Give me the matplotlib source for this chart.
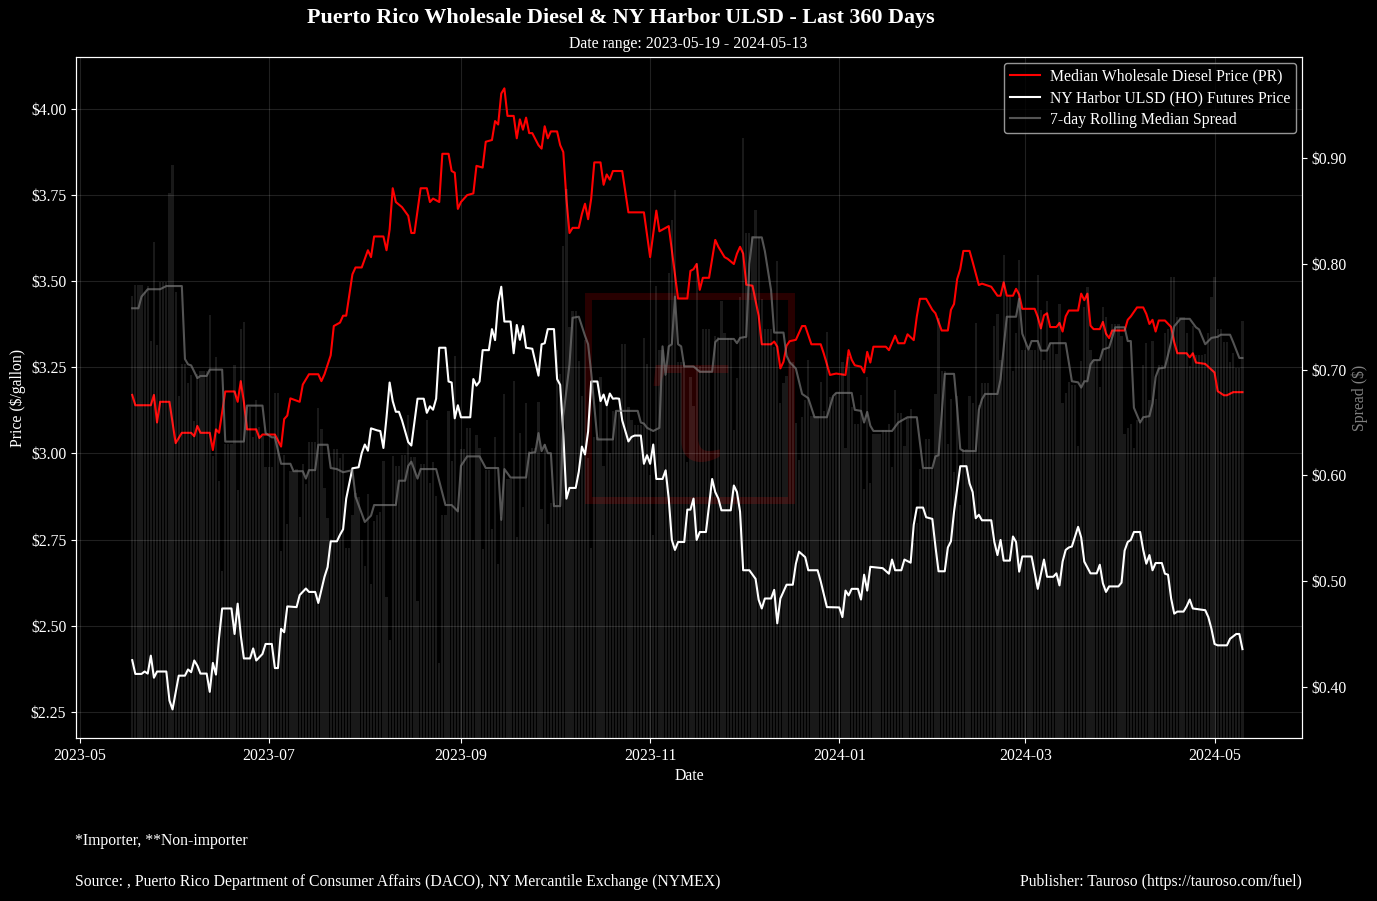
import numpy as np
import pandas as pd
import matplotlib
matplotlib.use("Agg")
import matplotlib.pyplot as plt
import matplotlib.dates as mdates
from matplotlib.patches import Rectangle
from matplotlib.ticker import FuncFormatter

plt.rcParams['font.family'] = ['Liberation Serif', 'DejaVu Serif']

START = pd.Timestamp('2023-05-01')

# day offsets from START
pr_days = [17, 18, 23, 24, 25, 26, 29, 31, 33, 36,
           37, 38, 39, 42, 43, 44, 45, 47, 50, 51,
           52, 53, 54, 57, 58, 59, 63, 65, 66, 67,
           68, 71, 72, 74, 77, 78, 79, 81, 82, 84,
           85, 86, 88, 89, 91, 93, 94, 95, 98, 99,
           100, 101, 102, 104, 106, 107, 108, 110, 112, 113,
           114, 116, 117, 119, 120, 121, 122, 123, 125, 127,
           128, 130, 131, 133, 134, 135, 136, 137, 138, 140,
           141, 142, 143, 144, 145, 146, 148, 149, 150, 151,
           152, 154, 155, 156, 157, 158, 159, 161, 162, 163,
           164, 165, 166, 168, 169, 170, 171, 172, 175, 177,
           182, 184, 186, 187, 190, 191, 193, 196, 197, 198,
           199, 200, 201, 203, 205, 206, 208, 209, 211, 212,
           213, 214, 215, 217, 219, 220, 223, 224, 225, 226,
           227, 228, 229, 231, 233, 234, 236, 239, 240, 242,
           244, 247, 248, 249, 250, 252, 253, 254, 255, 256,
           260, 261, 263, 264, 266, 267, 269, 270, 271, 273,
           275, 276, 278, 280, 281, 282, 283, 284, 285, 287,
           288, 290, 291, 294, 296, 297, 298, 299, 301, 302,
           303, 304, 308, 309, 310, 311, 312, 313, 315, 316,
           317, 318, 319, 322, 323, 324, 325, 326, 327, 329,
           330, 331, 332, 333, 337, 338, 339, 341, 343, 344,
           345, 346, 347, 348, 350, 352, 353, 354, 357, 358,
           359, 360, 363, 366, 367, 369, 370, 372, 375]
pr_price = [3.17, 3.14, 3.14, 3.17, 3.09, 3.15, 3.15, 3.03, 3.06, 3.06,
            3.05, 3.08, 3.06, 3.06, 3.01, 3.07, 3.06, 3.18, 3.18, 3.15,
            3.21, 3.15, 3.07, 3.07, 3.045, 3.055, 3.055, 3.02, 3.10, 3.11,
            3.16, 3.15, 3.20, 3.23, 3.23, 3.21, 3.23, 3.285, 3.37, 3.38,
            3.40, 3.40, 3.52, 3.54, 3.54, 3.59, 3.57, 3.63, 3.63, 3.59,
            3.65, 3.77, 3.73, 3.715, 3.69, 3.64, 3.64, 3.77, 3.77, 3.73,
            3.74, 3.73, 3.87, 3.87, 3.82, 3.815, 3.71, 3.73, 3.75, 3.755,
            3.835, 3.83, 3.905, 3.91, 3.965, 3.955, 4.045, 4.06, 3.98, 3.98,
            3.915, 3.97, 3.94, 3.975, 3.93, 3.93, 3.895, 3.885, 3.95, 3.915,
            3.935, 3.935, 3.895, 3.875, 3.74, 3.64, 3.655, 3.655, 3.695, 3.725,
            3.68, 3.74, 3.845, 3.845, 3.78, 3.81, 3.795, 3.82, 3.82, 3.70,
            3.70, 3.57, 3.705, 3.645, 3.66, 3.59, 3.45, 3.45, 3.53, 3.535,
            3.55, 3.475, 3.51, 3.51, 3.62, 3.60, 3.57, 3.565, 3.55, 3.58,
            3.60, 3.58, 3.49, 3.487, 3.40, 3.317, 3.317, 3.325, 3.31, 3.247,
            3.266, 3.313, 3.326, 3.33, 3.37, 3.37, 3.317, 3.317, 3.29, 3.228,
            3.232, 3.228, 3.30, 3.272, 3.256, 3.252, 3.235, 3.295, 3.264, 3.31,
            3.31, 3.30, 3.342, 3.32, 3.32, 3.346, 3.329, 3.398, 3.449, 3.449,
            3.417, 3.407, 3.357, 3.357, 3.417, 3.434, 3.506, 3.535, 3.588, 3.588,
            3.556, 3.489, 3.493, 3.484, 3.458, 3.458, 3.497, 3.458, 3.458, 3.478,
            3.461, 3.42, 3.42, 3.396, 3.363, 3.401, 3.407, 3.367, 3.367, 3.379,
            3.354, 3.398, 3.415, 3.415, 3.464, 3.445, 3.464, 3.371, 3.361, 3.361,
            3.382, 3.348, 3.335, 3.357, 3.357, 3.388, 3.398, 3.424, 3.424, 3.405,
            3.376, 3.388, 3.354, 3.386, 3.386, 3.367, 3.323, 3.291, 3.291, 3.279,
            3.291, 3.264, 3.26, 3.235, 3.181, 3.169, 3.169, 3.178, 3.178]

ho_days = [17, 18, 20, 21, 22, 23, 24, 25, 28, 29,
           30, 32, 34, 35, 36, 37, 38, 39, 41, 42,
           43, 44, 45, 46, 49, 50, 51, 52, 53, 55,
           56, 57, 59, 60, 62, 63, 64, 65, 66, 67,
           70, 71, 73, 74, 76, 77, 79, 80, 81, 83,
           84, 85, 86, 88, 90, 91, 92, 93, 94, 96,
           97, 98, 99, 100, 101, 102, 103, 104, 106, 107,
           109, 111, 112, 113, 114, 115, 116, 118, 119, 120,
           121, 122, 123, 126, 127, 128, 129, 130, 132, 133,
           134, 135, 136, 137, 139, 140, 141, 142, 143, 144,
           146, 148, 149, 150, 151, 153, 154, 155, 156, 157,
           158, 160, 161, 162, 163, 164, 165, 167, 168, 169,
           170, 171, 172, 173, 174, 175, 177, 178, 179, 181,
           182, 183, 184, 185, 186, 188, 189, 190, 191, 192,
           193, 195, 196, 197, 198, 199, 200, 202, 204, 205,
           206, 207, 210, 211, 212, 213, 214, 216, 218, 219,
           220, 221, 223, 224, 225, 226, 228, 230, 231, 232,
           234, 235, 238, 239, 241, 245, 246, 247, 248, 249,
           251, 252, 253, 254, 255, 259, 261, 262, 263, 265,
           266, 268, 269, 270, 272, 273, 275, 276, 277, 279,
           280, 281, 282, 284, 286, 287, 288, 289, 290, 291,
           294, 295, 296, 297, 298, 300, 301, 302, 303, 304,
           307, 309, 311, 312, 314, 315, 316, 317, 318, 319,
           320, 322, 323, 324, 326, 328, 329, 330, 331, 332,
           335, 336, 337, 338, 339, 340, 342, 343, 344, 345,
           346, 347, 349, 350, 351, 352, 353, 354, 356, 357,
           358, 359, 363, 364, 365, 366, 367, 370, 371, 373,
           374, 375]
ho_price = [2.40, 2.36, 2.36, 2.367, 2.361, 2.413, 2.349, 2.367, 2.367, 2.283,
            2.257, 2.355, 2.355, 2.373, 2.365, 2.399, 2.384, 2.361, 2.361, 2.308,
            2.392, 2.358, 2.465, 2.55, 2.55, 2.476, 2.564, 2.472, 2.405, 2.405,
            2.434, 2.399, 2.418, 2.447, 2.447, 2.377, 2.377, 2.491, 2.481, 2.556,
            2.554, 2.589, 2.608, 2.598, 2.598, 2.566, 2.642, 2.67, 2.745, 2.745,
            2.764, 2.78, 2.869, 2.957, 2.96, 3.001, 3.026, 3.008, 3.073, 3.067,
            3.065, 3.016, 3.105, 3.206, 3.152, 3.121, 3.121, 3.096, 3.033, 3.023,
            3.159, 3.159, 3.118, 3.137, 3.127, 3.159, 3.307, 3.307, 3.209, 3.206,
            3.102, 3.14, 3.105, 3.105, 3.216, 3.197, 3.209, 3.30, 3.30, 3.361,
            3.329, 3.439, 3.484, 3.383, 3.383, 3.291, 3.373, 3.33, 3.37, 3.307,
            3.304, 3.226, 3.317, 3.32, 3.361, 3.361, 3.216, 3.199, 3.058, 2.869,
            2.90, 2.90, 2.947, 3.02, 2.997, 3.064, 3.209, 3.209, 3.152, 3.171,
            3.14, 3.174, 3.159, 3.16, 3.159, 3.096, 3.035, 3.048, 3.052, 3.052,
            2.97, 2.995, 2.97, 3.026, 2.926, 2.926, 2.951, 2.869, 2.749, 2.72,
            2.743, 2.743, 2.837, 2.837, 2.869, 2.749, 2.772, 2.772, 2.926, 2.888,
            2.869, 2.835, 2.835, 2.907, 2.888, 2.831, 2.661, 2.661, 2.636, 2.575,
            2.55, 2.579, 2.579, 2.604, 2.507, 2.579, 2.619, 2.619, 2.68, 2.715,
            2.699, 2.661, 2.661, 2.629, 2.554, 2.553, 2.525, 2.602, 2.588, 2.607,
            2.607, 2.576, 2.648, 2.602, 2.671, 2.667, 2.651, 2.692, 2.661, 2.661,
            2.692, 2.683, 2.793, 2.843, 2.843, 2.815, 2.81, 2.73, 2.658, 2.658,
            2.727, 2.745, 2.831, 2.963, 2.963, 2.913, 2.888, 2.812, 2.822, 2.806,
            2.806, 2.743, 2.705, 2.749, 2.689, 2.689, 2.759, 2.743, 2.657, 2.701,
            2.701, 2.607, 2.692, 2.642, 2.642, 2.652, 2.617, 2.686, 2.72, 2.727,
            2.73, 2.787, 2.756, 2.686, 2.652, 2.652, 2.677, 2.623, 2.598, 2.614,
            2.614, 2.625, 2.718, 2.743, 2.749, 2.772, 2.772, 2.72, 2.68, 2.705,
            2.661, 2.682, 2.682, 2.651, 2.648, 2.579, 2.535, 2.541, 2.541, 2.556,
            2.576, 2.55, 2.545, 2.525, 2.491, 2.447, 2.443, 2.443, 2.462, 2.476,
            2.476, 2.432]

med_days = [17, 19, 20, 22, 26, 28, 33, 34, 35, 36,
            38, 39, 41, 42, 46, 47, 53, 54, 59, 60,
            62, 63, 65, 68, 69, 72, 73, 74, 76, 77,
            80, 81, 83, 85, 88, 89, 92, 94, 95, 102,
            103, 105, 106, 107, 108, 109, 110, 115, 118, 120,
            122, 123, 125, 129, 131, 135, 136, 137, 139, 144,
            145, 147, 148, 149, 150, 151, 152, 153, 155, 156,
            158, 159, 161, 163, 164, 165, 167, 172, 173, 180,
            181, 182, 183, 185, 187, 188, 189, 190, 191, 192,
            193, 194, 195, 198, 200, 204, 205, 206, 211, 212,
            213, 215, 216, 217, 220, 221, 223, 224, 227, 228,
            229, 231, 233, 235, 237, 241, 243, 244, 249, 250,
            252, 253, 254, 255, 256, 262, 264, 267, 270, 272,
            275, 276, 277, 279, 282, 283, 284, 285, 289, 290,
            291, 292, 296, 297, 299, 302, 303, 304, 306, 307,
            309, 310, 312, 313, 318, 320, 322, 323, 324, 325,
            326, 327, 329, 330, 332, 334, 337, 338, 339, 340,
            342, 343, 345, 346, 347, 348, 350, 352, 353, 355,
            358, 360, 361, 363, 365, 367, 368, 371, 372, 374,
            375]
med_spread = [0.758, 0.758, 0.769, 0.776, 0.776, 0.779, 0.779, 0.71, 0.705, 0.704,
              0.692, 0.694, 0.694, 0.70, 0.70, 0.632, 0.632, 0.666, 0.666, 0.64,
              0.636, 0.636, 0.611, 0.611, 0.604, 0.604, 0.597, 0.605, 0.605, 0.629,
              0.629, 0.607, 0.606, 0.603, 0.605, 0.58, 0.556, 0.562, 0.572, 0.572,
              0.595, 0.595, 0.609, 0.613, 0.605, 0.597, 0.606, 0.606, 0.572, 0.572,
              0.566, 0.609, 0.618, 0.618, 0.607, 0.607, 0.558, 0.606, 0.598, 0.598,
              0.621, 0.622, 0.64, 0.623, 0.629, 0.621, 0.621, 0.571, 0.571, 0.656,
              0.705, 0.749, 0.75, 0.732, 0.724, 0.697, 0.634, 0.634, 0.661, 0.661,
              0.65, 0.649, 0.645, 0.642, 0.645, 0.722, 0.695, 0.722, 0.724, 0.769,
              0.724, 0.722, 0.703, 0.703, 0.698, 0.698, 0.726, 0.729, 0.729, 0.725,
              0.73, 0.731, 0.80, 0.825, 0.825, 0.812, 0.775, 0.735, 0.735, 0.713,
              0.707, 0.701, 0.677, 0.673, 0.655, 0.655, 0.675, 0.678, 0.678, 0.662,
              0.661, 0.65, 0.66, 0.647, 0.642, 0.642, 0.65, 0.655, 0.655, 0.607,
              0.607, 0.618, 0.619, 0.696, 0.696, 0.664, 0.625, 0.623, 0.623, 0.662,
              0.672, 0.677, 0.677, 0.691, 0.75, 0.75, 0.767, 0.734, 0.719, 0.727,
              0.727, 0.718, 0.718, 0.725, 0.725, 0.689, 0.688, 0.683, 0.689, 0.689,
              0.705, 0.709, 0.709, 0.719, 0.721, 0.74, 0.74, 0.727, 0.727, 0.664,
              0.65, 0.655, 0.656, 0.668, 0.693, 0.701, 0.702, 0.726, 0.741, 0.748,
              0.748, 0.74, 0.738, 0.724, 0.73, 0.731, 0.733, 0.733, 0.726, 0.711,
              0.711]


def to_dates(days):
    return START + pd.to_timedelta(days, unit='D')


# daily spread (PR minus HO), carrying each reading until the next one
day_range = np.arange(pr_days[0], pr_days[-1] + 1)
pr_daily = pd.Series(pr_price, index=pr_days).reindex(day_range).ffill()
ho_daily = pd.Series(ho_price, index=ho_days).reindex(day_range).ffill()
spread_daily = pr_daily - ho_daily

FS = 11.3

fig = plt.figure(figsize=(13.77, 9.01), dpi=100, facecolor='black')
ax = fig.add_axes([76 / 1377, 1 - 738 / 901, 1226 / 1377, 681 / 901])
ax.set_facecolor('black')
ax2 = ax.twinx()

# watermark
wm = Rectangle((588 / 1377, 1 - 500 / 901), 203 / 1377, 204 / 901, transform=fig.transFigure,
               fill=False, edgecolor='red', alpha=0.16, lw=5, zorder=0)
ax.add_patch(wm)
ax.text(690 / 1377, 1 - 410 / 901, 'τ', transform=fig.transFigure, color='red', alpha=0.16,
        fontsize=150, ha='center', va='center', zorder=0)

l1, = ax.plot(to_dates(pr_days), pr_price, color='red', lw=1.5,
              label='Median Wholesale Diesel Price (PR)')
l2, = ax.plot(to_dates(ho_days), ho_price, color='white', lw=1.5,
              label='NY Harbor ULSD (HO) Futures Price')
ax2.bar(to_dates(day_range), spread_daily.values, width=0.72, color='white', alpha=0.1)
l3, = ax2.plot(to_dates(med_days), med_spread, color='gray', alpha=0.65, lw=1.5,
               label='7-day Rolling Median Spread')

ax.set_xlim(START - pd.Timedelta(days=1.13), START + pd.Timedelta(days=394.2))
ax.set_ylim(2.174, 4.151)
ax2.set_ylim(0.3518, 0.9955)

ax.xaxis.set_major_locator(mdates.MonthLocator(bymonth=[1, 3, 5, 7, 9, 11]))
ax.xaxis.set_major_formatter(mdates.DateFormatter('%Y-%m'))
ax.set_yticks([2.25, 2.5, 2.75, 3.0, 3.25, 3.5, 3.75, 4.0])
ax2.set_yticks([0.4, 0.5, 0.6, 0.7, 0.8, 0.9])
ax.yaxis.set_major_formatter(FuncFormatter(lambda v, p: f'${v:.2f}'))
ax2.yaxis.set_major_formatter(FuncFormatter(lambda v, p: f'${v:.2f}'))

ax.grid(True, color='white', alpha=0.13, lw=0.8)
for a in (ax, ax2):
    a.tick_params(colors='white', labelsize=FS)
    for s in a.spines.values():
        s.set_color('white')

ax.set_ylabel('Price ($/gallon)', color='white', fontsize=FS)
ax.yaxis.set_label_coords(-0.0405, 0.5)
ax2.set_ylabel('Spread ($)', color='gray', fontsize=FS)
ax2.yaxis.set_label_coords(1.0404, 0.5)

leg = ax2.legend(handles=[l1, l2, l3], loc='upper right', fontsize=FS, facecolor='black',
                 edgecolor='#bbbbbb', labelcolor='white', framealpha=0.8,
                 bbox_to_anchor=(1.0, 1.0), borderaxespad=0.4, handlelength=1.9,
                 handletextpad=0.65, borderpad=0.35, labelspacing=0.35)

fig.text(621 / 1377, 1 - 18 / 901, 'Puerto Rico Wholesale Diesel & NY Harbor ULSD - Last 360 Days',
         color='white', fontsize=15.8, fontweight='bold', ha='center', va='center')
fig.text(688 / 1377, 1 - 44 / 901, 'Date range: 2023-05-19 - 2024-05-13',
         color='white', fontsize=FS, ha='center', va='center')
fig.text(689 / 1377, 1 - 776 / 901, 'Date', color='white', fontsize=FS, ha='center', va='center')
fig.text(75 / 1377, 1 - 841 / 901, '*Importer, **Non-importer', color='white', fontsize=FS, va='center')
fig.text(75 / 1377, 1 - 882 / 901,
         'Source: , Puerto Rico Department of Consumer Affairs (DACO), NY Mercantile Exchange (NYMEX)',
         color='white', fontsize=FS, va='center')
fig.text(1302 / 1377, 1 - 882 / 901, 'Publisher: Tauroso (https://tauroso.com/fuel)',
         color='white', fontsize=FS, ha='right', va='center')

fig.savefig('out.png', dpi=100, facecolor='black')
